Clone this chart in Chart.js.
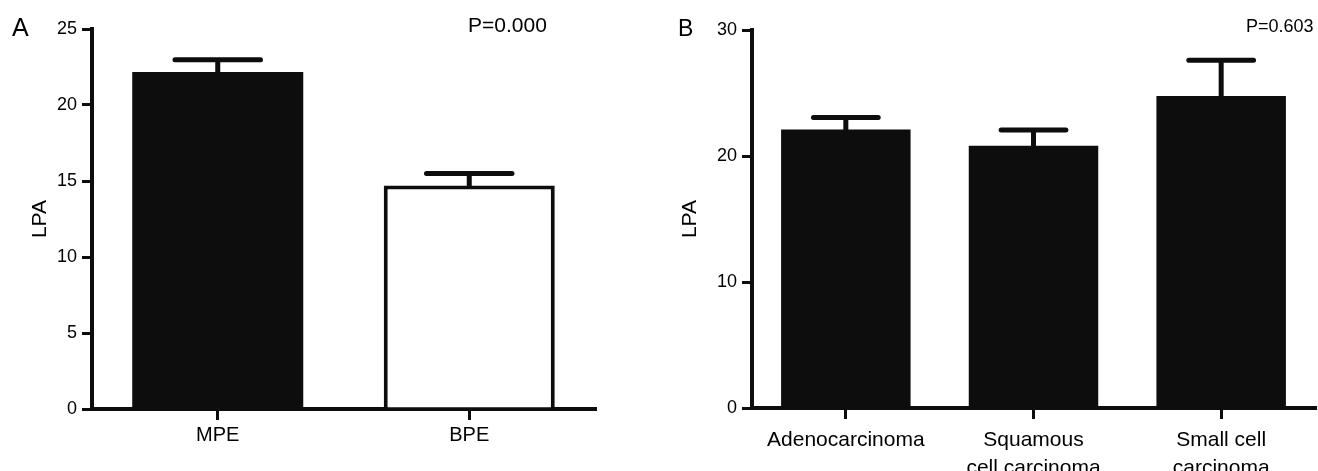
<!DOCTYPE html>
<html>
<head>
<meta charset="utf-8">
<script src="https://cdn.jsdelivr.net/npm/chart.js@4"></script>
<style>
    body { margin: 0; background: #fff; width: 1318px; height: 471px; overflow: hidden; position: relative; }
    canvas { position: absolute; top: 0; }
    #chartA { left: 0; }
    #chartB { left: 640px; }
    .lbl { position: absolute; font-family: 'Liberation Sans', Arial, Helvetica, sans-serif; color: #000; white-space: nowrap; }
</style>
</head>
<body>
<canvas id="chartA" width="600" height="471"></canvas>
<canvas id="chartB" width="678" height="471"></canvas>
<div class="lbl" style="left:12px; top:15px; font-size:25px; line-height:25px;">A</div>
<div class="lbl" style="left:468px; top:14px; font-size:21px; line-height:21px;">P=0.000</div>
<div class="lbl" style="left:678px; top:17px; font-size:23px; line-height:23px;">B</div>
<div class="lbl" style="left:1246px; top:17px; font-size:18px; line-height:18px;">P=0.603</div>
<script>
// Panel A: effusion type
const groupsA = ['MPE', 'BPE'];
const meanA = [22.17, 14.7];
const semA = [0.8, 0.8];
const ticksA = [0, 5, 10, 15, 20, 25];

// Panel B: histology
const groupsB = ['Adenocarcinoma', ['Squamous', 'cell carcinoma'], ['Small cell', 'carcinoma']];
const meanB = [22.1, 20.82, 24.76];
const semB = [0.95, 1.24, 2.84];
const ticksB = [0, 10, 20, 30];

const fontFamily = "'Liberation Sans', Arial, Helvetica, sans-serif";
const ink = '#0d0d0d';

// draws the upper half of each error bar from the bar top
const errorBars = {
    id: 'errorBars',
    afterDatasetsDraw(chart) {
        const ctx = chart.ctx;
        const yScale = chart.scales.y;
        chart.data.datasets.forEach((ds, i) => {
            const meta = chart.getDatasetMeta(i);
            meta.data.forEach((bar, j) => {
                const top = yScale.getPixelForValue(ds.data[j]);
                const end = yScale.getPixelForValue(ds.data[j] + ds.errors[j]);
                const half = bar.width * 0.25;
                ctx.save();
                ctx.strokeStyle = ink;
                ctx.lineWidth = 5;
                ctx.lineCap = 'round';
                ctx.beginPath();
                ctx.moveTo(bar.x, top);
                ctx.lineTo(bar.x, end);
                ctx.moveTo(bar.x - half, end);
                ctx.lineTo(bar.x + half, end);
                ctx.stroke();
                ctx.restore();
            });
        });
    }
};

function makeChart(id, labels, values, errors, fills, borders, tickValues, opts) {
    return new Chart(document.getElementById(id), {
        type: 'bar',
        data: {
            labels: labels,
            datasets: [{
                data: values,
                errors: errors,
                backgroundColor: fills,
                borderColor: ink,
                borderWidth: borders,
                categoryPercentage: 1,
                barPercentage: opts.barPct
            }]
        },
        options: {
            responsive: false,
            animation: false,
            layout: { padding: { top: opts.top, right: opts.right, left: 0, bottom: 0 } },
            plugins: { legend: { display: false }, tooltip: { enabled: false } },
            scales: {
                x: {
                    grid: { display: true, drawOnChartArea: false, offset: false, tickLength: 11, color: ink, lineWidth: 3 },
                    border: { display: true, color: ink, width: 4 },
                    ticks: { color: '#000', padding: opts.xPad, font: { family: fontFamily, size: opts.xSize, lineHeight: 1.35 } },
                    afterFit(scale) { scale.height = opts.bottomH; }
                },
                y: {
                    min: 0,
                    max: tickValues[tickValues.length - 1],
                    afterBuildTicks(scale) { scale.ticks = tickValues.map(v => ({ value: v })); },
                    grid: { display: true, drawOnChartArea: false, tickLength: 10, color: ink, lineWidth: 3 },
                    border: { display: true, color: ink, width: 4 },
                    ticks: { color: '#000', padding: 5, font: { family: fontFamily, size: 18 } },
                    title: {
                        display: true,
                        text: 'LPA',
                        color: '#000',
                        padding: { top: opts.titlePad, bottom: 0 },
                        font: { family: fontFamily, size: 21 }
                    },
                    afterFit(scale) { scale.width = opts.axisW; }
                }
            }
        },
        plugins: [errorBars]
    });
}

makeChart('chartA', groupsA, meanA, semA, [ink, '#ffffff'], [0, 4], ticksA,
    { barPct: 0.68, top: 29, right: 5, bottomH: 62, axisW: 92, titlePad: 28, xPad: 2, xSize: 20 });
makeChart('chartB', groupsB, meanB, semB, [ink, ink, ink], [0, 0, 0], ticksB,
    { barPct: 0.69, top: 30, right: 3, bottomH: 63, axisW: 112, titlePad: 38, xPad: 7, xSize: 21 });
</script>
</body>
</html>
